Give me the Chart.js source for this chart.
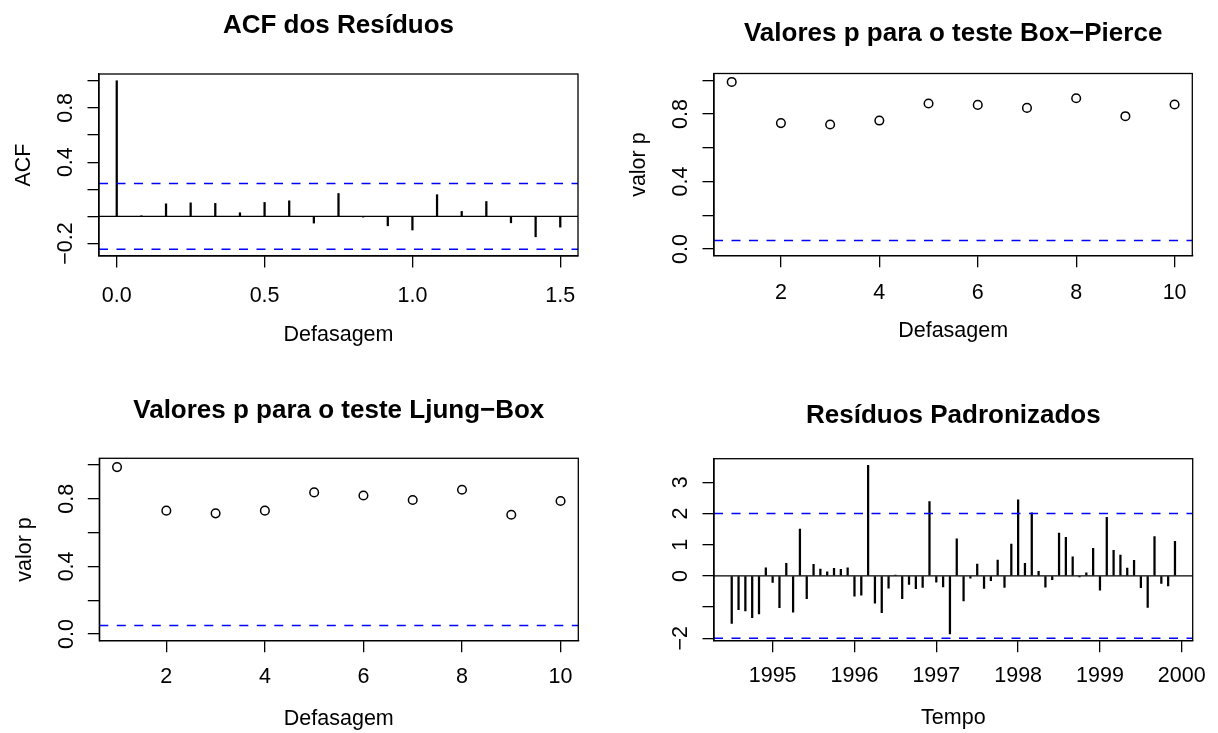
<!DOCTYPE html>
<html>
<head>
<meta charset="utf-8">
<script src="https://cdn.jsdelivr.net/npm/chart.js@4.4.1/dist/chart.umd.min.js"></script>
<style>
  html, body { margin: 0; padding: 0; background: #fff; }
  #wrap { position: relative; width: 1218px; height: 733px; overflow: hidden; }
  canvas { position: absolute; }
</style>
</head>
<body>
<div id="wrap">
  <canvas id="acf" width="609" height="367" style="left:0;top:0"></canvas>
  <canvas id="bp" width="609" height="367" style="left:609px;top:0"></canvas>
  <canvas id="lb" width="609" height="367" style="left:0;top:366px"></canvas>
  <canvas id="res" width="609" height="367" style="left:609px;top:366px"></canvas>
</div>
<script>
// ACF of the residuals (lags in years, monthly series)
const acfLags = [0, 0.0833, 0.1667, 0.25, 0.3333, 0.4167, 0.5, 0.5833, 0.6667, 0.75,
  0.8333, 0.9167, 1.0, 1.0833, 1.1667, 1.25, 1.3333, 1.4167, 1.5];
const acfValues = [1.0, 0.003, 0.093, 0.10, 0.096, 0.027, 0.103, 0.115, -0.049, 0.169,
  -0.005, -0.069, -0.10, 0.16, 0.037, 0.11, -0.047, -0.15, -0.079];
const acfLimit = 0.242;

// p-values
const testLags = [1, 2, 3, 4, 5, 6, 7, 8, 9, 10];
const boxPierceP = [0.990, 0.746, 0.738, 0.761, 0.862, 0.854, 0.836, 0.893, 0.787, 0.856];
const ljungBoxP = [0.988, 0.730, 0.714, 0.730, 0.838, 0.820, 0.793, 0.854, 0.706, 0.787];
const pLevel = 0.05;

// standardized residuals, monthly from July 1994
const resStart = 1994.5;
const resFreq = 12;
const stdResiduals = [-1.52, -1.08, -1.12, -1.34, -1.22, 0.26, -0.21, -1.02, 0.40, -1.16,
  1.50, -0.73, 0.37, 0.22, 0.13, 0.24, 0.21, 0.26, -0.65, -0.62,
  3.54, -0.87, -1.18, -0.39, 0.03, -0.73, -0.27, -0.41, -0.37, 2.38,
  -0.20, -0.35, -1.86, 1.19, -0.80, -0.07, 0.38, -0.40, -0.15, 0.51,
  -0.37, 1.02, 2.44, 0.40, 2.02, 0.15, -0.36, -0.12, 1.37, 1.24,
  0.61, -0.03, 0.10, 0.88, -0.46, 1.88, 0.82, 0.67, 0.25, 0.50,
  -0.38, -1.01, 1.26, -0.24, -0.32, 1.11];
const resLimit = 2;

// tick values and labels
const acfXTicks = [0, 0.5, 1.0, 1.5];
const acfXLabels = ['0.0', '0.5', '1.0', '1.5'];
const acfYTicks = [-0.2, 0, 0.2, 0.4, 0.6, 0.8, 1.0];
const acfYLabels = ['\u22120.2', '', '', '0.4', '', '0.8', ''];
const lagTicks = [2, 4, 6, 8, 10];
const lagLabels = ['2', '4', '6', '8', '10'];
const pYTicks = [0, 0.2, 0.4, 0.6, 0.8, 1.0];
const pYLabels = ['0.0', '', '0.4', '', '0.8', ''];
const yearTicks = [1995, 1996, 1997, 1998, 1999, 2000];
const yearLabels = ['1995', '1996', '1997', '1998', '1999', '2000'];
const resYTicks = [-2, -1, 0, 1, 2, 3];
const resYLabels = ['\u22122', '', '0', '1', '2', '3'];

const FONT = '"Liberation Sans", Arial, Helvetica, sans-serif';
const BASE = 21.5;
const TITLE = 26;
const TL = 11.5;
const H = 367;

function expand(lo, hi) {
  const d = (hi - lo) * 0.04;
  return [lo - d, hi + d];
}

function widest(labels) {
  const ctx = document.createElement('canvas').getContext('2d');
  ctx.font = BASE + 'px ' + FONT;
  return Math.max(...labels.map(l => ctx.measureText(l).width));
}

// reference lines + box around plot region
const frame = {
  id: 'frame',
  afterDatasetsDraw(chart, args, opts) {
    const { ctx, chartArea: a, scales: { y } } = chart;
    ctx.save();
    ctx.beginPath();
    ctx.rect(a.left, a.top, a.right - a.left, a.bottom - a.top);
    ctx.clip();
    (opts.lines || []).forEach(l => {
      const py = y.getPixelForValue(l.value);
      ctx.beginPath();
      ctx.lineWidth = l.width;
      ctx.strokeStyle = l.color;
      ctx.setLineDash(l.dash || []);
      ctx.moveTo(a.left, py);
      ctx.lineTo(a.right, py);
      ctx.stroke();
    });
    ctx.restore();
  },
  afterDraw(chart) {
    const { ctx, chartArea: a } = chart;
    ctx.save();
    ctx.lineWidth = 1.3;
    ctx.strokeStyle = '#000';
    ctx.strokeRect(a.left, a.top, a.right - a.left, a.bottom - a.top);
    ctx.restore();
  }
};

function makePanel(id, g) {
  const lh = BASE * 1.2;
  const tlh = TITLE * 1.2;
  const axisH = H - g.b;
  const tTop = g.titleY - tlh / 2;
  const yPad = 32.5 - TL - widest(g.yLabels) / 2;
  const axisFont = { family: FONT, size: BASE };

  return new Chart(document.getElementById(id), {
    type: g.type,
    data: { datasets: g.datasets },
    plugins: [frame],
    options: {
      responsive: false,
      animation: false,
      events: [],
      layout: { padding: { left: 0, top: 0, right: 609 - g.r, bottom: 0 } },
      plugins: {
        legend: { display: false },
        tooltip: { enabled: false },
        title: {
          display: true,
          text: g.title,
          fullSize: false,
          color: '#000',
          font: { family: FONT, size: TITLE, weight: 'bold', lineHeight: 1.2 },
          padding: { top: tTop, bottom: g.t - tTop - tlh }
        },
        frame: { lines: g.lines }
      },
      scales: {
        x: {
          type: 'linear',
          min: g.xlim[0],
          max: g.xlim[1],
          offset: false,
          afterBuildTicks: s => { s.ticks = g.xTicks.map(v => ({ value: v })); },
          afterFit: s => { s.height = axisH; },
          ticks: {
            autoSkip: false,
            maxRotation: 0,
            padding: g.xPad,
            color: '#000',
            font: axisFont,
            callback: (v, i) => g.xLabels[i]
          },
          grid: { drawOnChartArea: false, offset: false, tickLength: TL, color: '#000', lineWidth: 1.3 },
          border: { display: true, color: '#000', width: 1.3 },
          title: {
            display: true,
            text: g.xTitle,
            color: '#000',
            font: { family: FONT, size: BASE, lineHeight: 1.2 },
            padding: { top: 0, bottom: axisH - g.xTitleOff - lh / 2 }
          }
        },
        y: {
          type: 'linear',
          min: g.ylim[0],
          max: g.ylim[1],
          afterBuildTicks: s => { s.ticks = g.yTicks.map(v => ({ value: v })); },
          afterFit: s => { s.width = g.l; },
          ticks: {
            autoSkip: false,
            minRotation: 90,
            maxRotation: 90,
            crossAlign: 'center',
            padding: yPad,
            color: '#000',
            font: axisFont,
            callback: (v, i) => g.yLabels[i]
          },
          grid: { drawOnChartArea: false, tickLength: TL, color: '#000', lineWidth: 1.3 },
          border: { display: true, color: '#000', width: 1.3 },
          title: {
            display: !!g.yTitle,
            text: g.yTitle || '',
            color: '#000',
            font: { family: FONT, size: BASE, lineHeight: 1.2 },
            padding: { top: g.l - 74.5 - lh / 2, bottom: 0 }
          }
        }
      }
    }
  });
}

const spikeStyle = { backgroundColor: '#000', borderWidth: 0, barThickness: 1.6, grouped: false };
const pointStyle = {
  pointRadius: 4.3, pointBorderWidth: 1.5, pointBorderColor: '#000',
  pointBackgroundColor: 'rgba(0,0,0,0)', showLine: false
};
const dashed = { color: '#0000ff', width: 1.5, dash: [9, 8.5] };

// panel 1: ACF
makePanel('acf', {
  type: 'bar',
  l: 99, t: 74, r: 578, b: 256, titleY: 26, xPad: 16, xTitleOff: 79,
  title: 'ACF dos Resíduos', xTitle: 'Defasagem', yTitle: 'ACF',
  xlim: expand(Math.min(...acfLags), Math.max(...acfLags)),
  ylim: expand(Math.min(-acfLimit, ...acfValues), Math.max(acfLimit, ...acfValues)),
  xTicks: acfXTicks, xLabels: acfXLabels, yTicks: acfYTicks, yLabels: acfYLabels,
  datasets: [Object.assign({ data: acfLags.map((x, i) => ({ x, y: acfValues[i] })) }, spikeStyle)],
  lines: [
    { value: 0, color: '#000', width: 1.3 },
    Object.assign({ value: acfLimit }, dashed),
    Object.assign({ value: -acfLimit }, dashed)
  ]
});

// panel 2: Box-Pierce
makePanel('bp', {
  type: 'scatter',
  l: 105, t: 73.5, r: 583.3, b: 255.7, titleY: 33.5, xPad: 13, xTitleOff: 75,
  title: 'Valores p para o teste Box\u2212Pierce', xTitle: 'Defasagem', yTitle: 'valor p',
  xlim: expand(Math.min(...testLags), Math.max(...testLags)),
  ylim: expand(0, 1),
  xTicks: lagTicks, xLabels: lagLabels, yTicks: pYTicks, yLabels: pYLabels,
  datasets: [Object.assign({ data: testLags.map((x, i) => ({ x, y: boxPierceP[i] })) }, pointStyle)],
  lines: [Object.assign({ value: pLevel }, dashed)]
});

// panel 3: Ljung-Box
makePanel('lb', {
  type: 'scatter',
  l: 99.3, t: 92.3, r: 578.3, b: 274.7, titleY: 45, xPad: 12, xTitleOff: 78,
  title: 'Valores p para o teste Ljung\u2212Box', xTitle: 'Defasagem', yTitle: 'valor p',
  xlim: expand(Math.min(...testLags), Math.max(...testLags)),
  ylim: expand(0, 1),
  xTicks: lagTicks, xLabels: lagLabels, yTicks: pYTicks, yLabels: pYLabels,
  datasets: [Object.assign({ data: testLags.map((x, i) => ({ x, y: ljungBoxP[i] })) }, pointStyle)],
  lines: [Object.assign({ value: pLevel }, dashed)]
});

// panel 4: standardized residuals
const resTimes = stdResiduals.map((v, i) => resStart + i / resFreq);
makePanel('res', {
  type: 'bar',
  l: 105, t: 92.7, r: 583.7, b: 274.7, titleY: 50, xPad: 11, xTitleOff: 77,
  title: 'Resíduos Padronizados', xTitle: 'Tempo', yTitle: '',
  xlim: expand(resTimes[0], resTimes[resTimes.length - 1]),
  ylim: expand(Math.min(...stdResiduals), Math.max(...stdResiduals)),
  xTicks: yearTicks, xLabels: yearLabels, yTicks: resYTicks, yLabels: resYLabels,
  datasets: [Object.assign({ data: resTimes.map((x, i) => ({ x, y: stdResiduals[i] })) }, spikeStyle)],
  lines: [
    { value: 0, color: '#000', width: 1.3 },
    Object.assign({ value: resLimit }, dashed),
    Object.assign({ value: -resLimit }, dashed)
  ]
});
</script>
</body>
</html>
